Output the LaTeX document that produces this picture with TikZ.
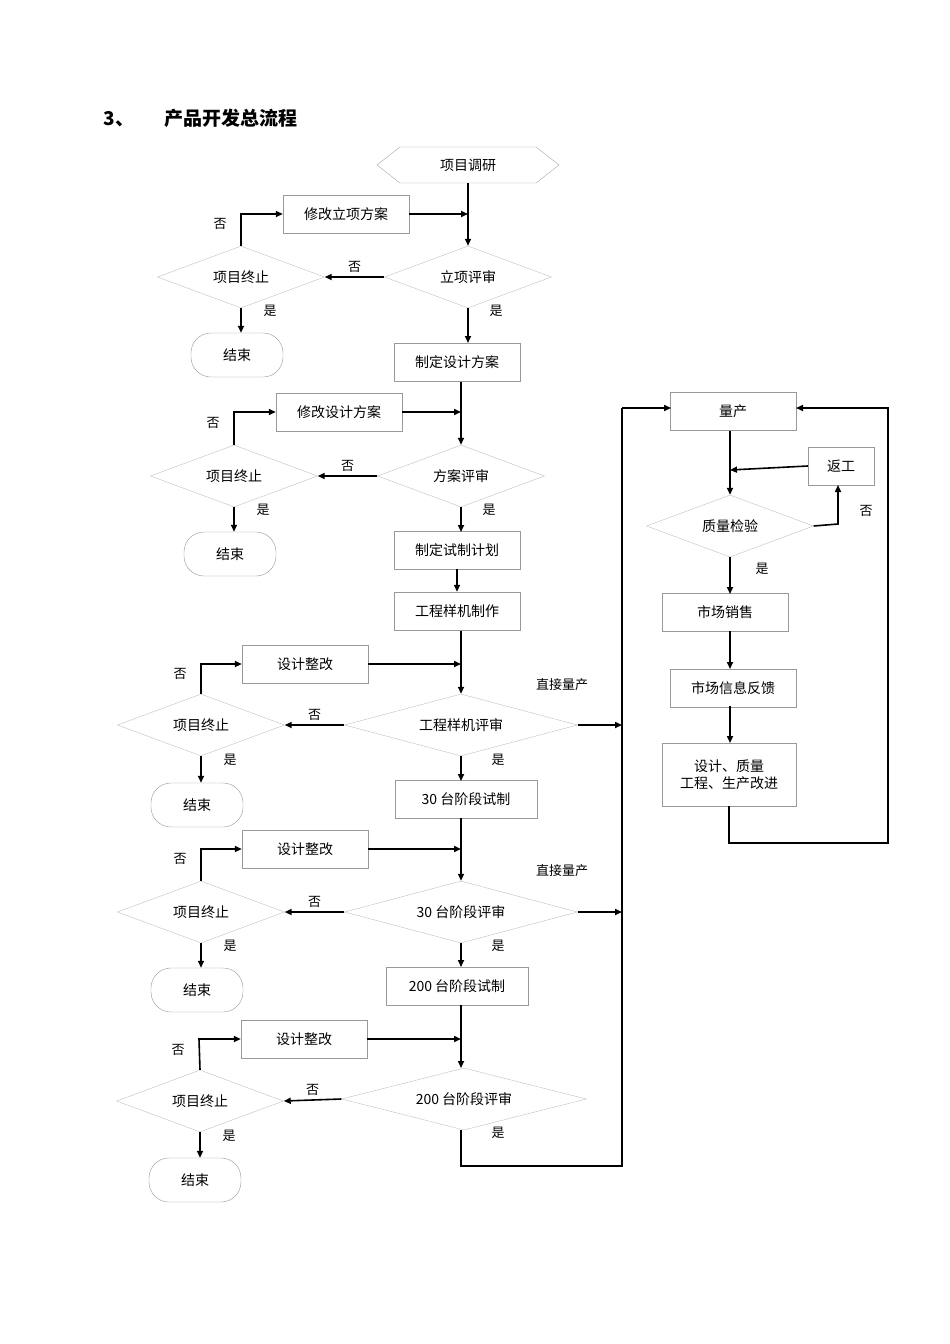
\documentclass[tikz,border=0pt]{standalone}
\usepackage{fontspec}
\setmainfont{Liberation Serif}
\newfontfamily\cjk{Noto Sans CJK SC}
\usetikzlibrary{shapes.geometric,arrows.meta}
\begin{document}
\begin{tikzpicture}[x=1pt,y=-1pt,
  every node/.style={font=\cjk\fontsize{14}{17}\selectfont},
  box/.style={draw=gray!80,thin,minimum width=126pt,minimum height=38pt,inner sep=0pt},
  dia/.style={draw=gray!50,thin,diamond,aspect=2.7,inner sep=0pt,minimum width=167pt,minimum height=62pt},
  wdia/.style={dia,minimum width=233pt},
  endb/.style={draw=gray!80,thin,rounded corners=20pt,minimum width=92pt,minimum height=44pt},
  arr/.style={-{Triangle[length=7pt,width=6pt]},line width=1.6pt},
  ln/.style={line width=1.6pt},
  lb/.style={font=\cjk\fontsize{13}{15}\selectfont}]
\useasboundingbox (0,0) rectangle (950,1344);
\node[font=\cjk\bfseries\fontsize{19}{22}\selectfont,anchor=west] (title) at (100,118) {3、\hspace{30pt}产品开发总流程};
% hexagon
\draw[draw=gray!70,thin] (377,165)--(400,147)--(536,147)--(559,165)--(536,183)--(400,183)--cycle;
\node (hex) at (468,165) {项目调研};
\coordinate (hexb) at (468,183);
% stage 1
\node[box] (m1) at (346,214) {修改立项方案};
\node[dia] (r1) at (468,277) {立项评审};
\node[dia] (t1) at (241,277) {项目终止};
\node[endb] (e1) at (237,355) {结束};
\node[box] (b1) at (457,362) {制定设计方案};
\draw[arr] (hexb) -- (r1.north);
\draw[arr] (m1.east) -- (468,214);
\draw[arr] (r1.west) -- node[lb,above]{否} (t1.east);
\draw[arr] (t1.south) -- (t1.south|-e1.north);
\node[lb] at (270,311) {是};
\draw[arr] (t1.north) -- (241,214) -- (m1.west);
\node[lb] at (220,224) {否};
\draw[arr] (r1.south) -- (468,343);
\node[lb] at (496,311) {是};
% stage 2
\node[box] (m2) at (339,412) {修改设计方案};
\node[dia] (r2) at (461,476) {方案评审};
\node[dia] (t2) at (234,476) {项目终止};
\node[endb] (e2) at (230,554) {结束};
\node[box] (b2) at (457,550) {制定试制计划};
\node[box] (b3) at (457,611) {工程样机制作};
\draw[arr] (461,382) -- (r2.north);
\draw[arr] (m2.east) -- (461,412);
\draw[arr] (r2.west) -- node[lb,above]{否} (t2.east);
\draw[arr] (t2.south) -- (t2.south|-e2.north);
\node[lb] at (263,510) {是};
\draw[arr] (t2.north) -- (234,412) -- (m2.west);
\node[lb] at (213,423) {否};
\draw[arr] (r2.south) -- (461,532);
\node[lb] at (489,510) {是};
\draw[arr] (b2.south) -- (b3.north);
% stage 3
\node[box] (m3) at (305,664) {设计整改};
\node[wdia] (r3) at (461,725) {工程样机评审};
\node[dia] (t3) at (201,725) {项目终止};
\node[endb] (e3) at (197,805) {结束};
\node[box,minimum width=142pt] (b4) at (466,799) {30 台阶段试制};
\draw[arr] (461,631) -- (r3.north);
\draw[arr] (m3.east) -- (461,664);
\draw[arr] (r3.west) -- node[lb,above]{否} (t3.east);
\draw[arr] (t3.south) -- (t3.south|-e3.north);
\node[lb] at (230,760) {是};
\draw[arr] (t3.north) -- (201,664) -- (m3.west);
\node[lb] at (180,674) {否};
\draw[arr] (r3.south) -- (461,781);
\node[lb] at (498,760) {是};
\node[lb] at (562,685) {直接量产};
% stage 4
\node[box] (m4) at (305,849) {设计整改};
\node[wdia] (r4) at (461,912) {30 台阶段评审};
\node[dia] (t4) at (201,912) {项目终止};
\node[endb] (e4) at (197,990) {结束};
\node[box,minimum width=142pt] (b5) at (457,986) {200 台阶段试制};
\draw[arr] (461,818) -- (r4.north);
\draw[arr] (m4.east) -- (461,849);
\draw[arr] (r4.west) -- node[lb,above]{否} (t4.east);
\draw[arr] (t4.south) -- (t4.south|-e4.north);
\node[lb] at (230,946) {是};
\draw[arr] (t4.north) -- (201,849) -- (m4.west);
\node[lb] at (180,859) {否};
\draw[arr] (r4.south) -- (461,967);
\node[lb] at (498,946) {是};
\node[lb] at (562,871) {直接量产};
% stage 5
\node[box] (m5) at (304,1039) {设计整改};
\node[wdia,minimum width=245pt] (r5) at (464,1099) {200 台阶段评审};
\node[dia] (t5) at (200,1101) {项目终止};
\node[endb] (e5) at (195,1180) {结束};
\draw[arr] (461,1005) -- (461,1068);
\draw[arr] (m5.east) -- (461,1039);
\draw[arr] (r5.west) -- node[lb,above]{否} (t5.east);
\draw[arr] (t5.south) -- (t5.south|-e5.north);
\node[lb] at (229,1136) {是};
\draw[arr] (t5.north) -- (199,1039) -- (m5.west);
\node[lb] at (178,1050) {否};
\node[lb] at (498,1133) {是};
% right column
\node[box] (q1) at (733,411) {量产};
\node[box,minimum width=66pt] (fg) at (841,466) {返工};
\node[dia] (qc) at (730,526) {质量检验};
\node[box] (s1) at (725,612) {市场销售};
\node[box] (s2) at (733,688) {市场信息反馈};
\node[box,minimum width=134pt,minimum height=63pt,align=center] (s3) at (729,775) {设计、质量\\工程、生产改进};
\coordinate (bus) at (622,408);
\draw[ln] (461,1130) -- (461,1166) -- (622,1166) -- (bus);
\draw[arr] (bus) -- (671,408);
\draw[arr] (r3.east) -- (622,725);
\draw[arr] (r4.east) -- (622,912);
\draw[arr] (730,431) -- (qc.north);
\draw[arr] (fg.west) -- (730,470);
\draw[arr] (qc.east) -- (838,524) -- (838,485);
\node[lb] at (866,511) {否};
\draw[arr] (qc.south) -- (730,594);
\node[lb] at (762,569) {是};
\draw[arr] (730,631) -- (730,669);
\draw[arr] (730,706) -- (730,743);
\draw[arr] (729,806) -- (729,843) -- (888,843) -- (888,408) -- (796,408);
\end{tikzpicture}
\end{document}
